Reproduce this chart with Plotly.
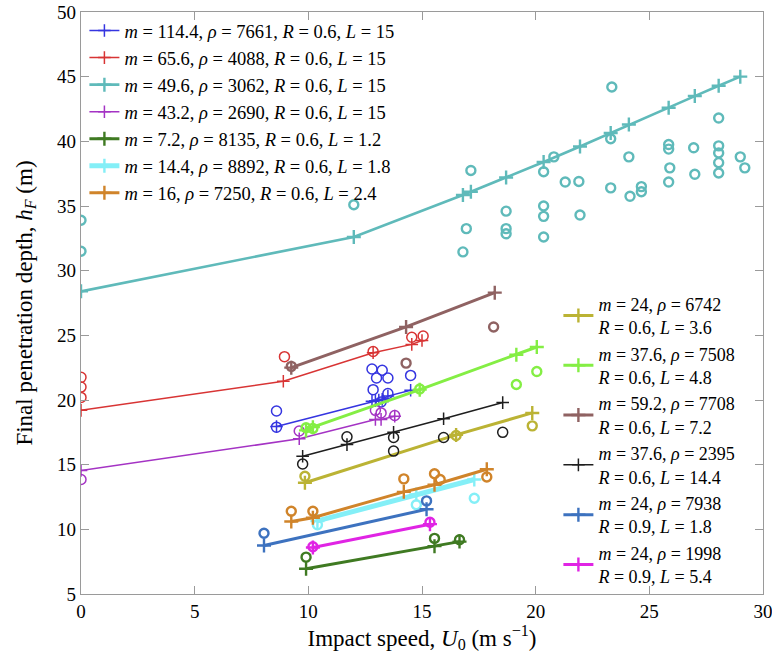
import plotly.graph_objects as go

# ---------------- data ----------------
# m=114.4, rho=7661, R=0.6, L=15 (blue)
blue_lx = [8.6, 12.8, 12.95, 13.1, 13.25, 13.5, 14.5]
blue_ly = [17.95, 19.9, 19.95, 20.0, 20.05, 20.3, 20.75]
blue_px = [8.6, 8.6, 12.8, 13.25, 13.0, 13.5, 12.85, 13.5, 14.5, 13.2]
blue_py = [19.15, 17.9, 22.4, 22.3, 21.7, 21.7, 20.8, 20.5, 21.9, 19.85]

# m=65.6, rho=4088, R=0.6, L=15 (red)
red_lx = [0, 8.9, 12.85, 14.55, 15.0]
red_ly = [19.2, 21.45, 23.65, 24.3, 24.6]
red_px = [0, 0, 0, 8.95, 12.85, 14.55, 15.05]
red_py = [21.75, 21.0, 20.2, 23.35, 23.75, 24.85, 24.95]

# m=49.6, rho=3062, R=0.6, L=15 (cyan)
cyan_lx = [0, 12, 16.8, 17.15, 18.7, 20.35, 21.95, 23.3, 24.1, 25.85, 27.0, 28.05, 29.0]
cyan_ly = [28.4, 32.6, 35.85, 36.1, 37.2, 38.4, 39.6, 40.65, 41.3, 42.6, 43.5, 44.3, 45.0]
cyan_px = [0, 0, 12, 17.15, 16.95, 16.8, 18.7, 18.7, 18.7, 20.35, 20.35, 20.35, 20.35,
           20.8, 21.3, 21.9, 21.95, 23.3, 23.35, 23.3, 24.1, 24.15, 24.65, 24.65,
           25.85, 25.85, 25.9, 25.85, 26.95, 27.0, 28.05, 28.05, 28.05, 28.05, 28.05,
           29.0, 29.2]
cyan_py = [33.9, 31.5, 35.1, 37.75, 33.25, 31.45, 34.6, 33.25, 32.85, 37.65, 35.0, 34.2, 32.6,
           38.8, 36.85, 36.9, 34.3, 40.2, 44.2, 36.4, 38.8, 35.75, 36.5, 36.1,
           39.75, 39.4, 37.95, 36.85, 39.5, 37.45, 41.8, 39.65, 39.1, 38.35, 37.55,
           38.8, 37.95]

# m=43.2, rho=2690, R=0.6, L=15 (purple)
purple_lx = [0, 9.6, 12.95, 13.2, 13.8]
purple_ly = [14.55, 17.0, 18.5, 18.5, 18.75]
purple_px = [0, 9.6, 12.95, 13.2, 13.8]
purple_py = [13.85, 17.6, 19.2, 19.0, 18.8]

# m=7.2, rho=8135, R=0.6, L=1.2 (dark green)
dgreen_lx = [9.9, 15.55, 16.65]
dgreen_ly = [6.95, 8.7, 9.05]
dgreen_px = [9.9, 15.55, 16.65]
dgreen_py = [7.85, 9.3, 9.2]

# m=14.4, rho=8892, R=0.6, L=1.8 (light cyan)
lcyan_lx = [10.4, 14.75, 17.3]
lcyan_ly = [10.65, 12.7, 13.85]
lcyan_px = [10.4, 14.75, 17.3]
lcyan_py = [10.35, 11.9, 12.4]

# m=16, rho=7250, R=0.6, L=2.4 (orange)
orange_lx = [9.25, 10.2, 14.2, 15.55, 17.85]
orange_ly = [10.6, 10.9, 12.9, 13.45, 14.65]
orange_px = [9.25, 10.2, 14.2, 15.55, 15.8, 17.85]
orange_py = [11.4, 11.4, 13.9, 14.3, 13.85, 14.05]

# m=24, rho=6742, R=0.6, L=3.6 (olive)
olive_lx = [9.85, 16.5, 19.85]
olive_ly = [13.6, 17.3, 19.0]
olive_px = [9.85, 16.5, 19.85]
olive_py = [14.1, 17.25, 18.0]

# m=37.6, rho=7508, R=0.6, L=4.8 (light green)
lgreen_lx = [9.9, 10.2, 14.9, 19.15, 20.05]
lgreen_ly = [17.65, 17.9, 20.8, 23.5, 24.1]
lgreen_px = [9.9, 10.2, 14.9, 19.15, 20.05]
lgreen_py = [17.85, 17.8, 20.85, 21.2, 22.2]

# m=59.2, rho=7708, R=0.6, L=7.2 (brown)
brown_lx = [9.25, 14.3, 18.2]
brown_ly = [22.5, 25.65, 28.3]
brown_px = [9.25, 14.3, 18.15]
brown_py = [22.6, 22.85, 25.65]

# m=37.6, rho=2395, R=0.6, L=14.4 (black)
black_lx = [9.75, 11.7, 13.75, 15.95, 18.55]
black_ly = [15.65, 16.55, 17.5, 18.55, 19.8]
black_px = [9.75, 11.7, 13.75, 13.75, 15.95, 18.55]
black_py = [15.05, 17.15, 17.1, 16.05, 17.1, 17.5]

# m=24, rho=7938, R=0.9, L=1.8 (steel blue)
sblue_lx = [8.05, 15.2]
sblue_ly = [8.75, 11.55]
sblue_px = [8.05, 15.2]
sblue_py = [9.7, 12.2]

# m=24, rho=1998, R=0.9, L=5.4 (magenta)
mag_lx = [10.2, 15.35]
mag_ly = [8.6, 10.4]
mag_px = [10.2, 15.35]
mag_py = [8.65, 10.55]

x_ticks = [0, 5, 10, 15, 20, 25, 30]
y_ticks = [5, 10, 15, 20, 25, 30, 35, 40, 45, 50]

# ---------------- styling ----------------
EQ = " = "

def lab1(m, rho, R, L):
    return (f"<i>m</i>{EQ}{m}, <i>ρ</i>{EQ}{rho}, "
            f"<i>R</i>{EQ}{R}, <i>L</i>{EQ}{L}")

def lab2(m, rho, R, L):
    return (f"<i>m</i>{EQ}{m}, <i>ρ</i>{EQ}{rho}<br>"
            f"<i>R</i>{EQ}{R}, <i>L</i>{EQ}{L}")

series = [
    # (lx, ly, px, py, color, linewidth, label, legend)
    (blue_lx, blue_ly, blue_px, blue_py, "#3535e0", 1.5, lab1(114.4, 7661, 0.6, 15), "legend"),
    (red_lx, red_ly, red_px, red_py, "#d83434", 1.5, lab1(65.6, 4088, 0.6, 15), "legend"),
    (cyan_lx, cyan_ly, cyan_px, cyan_py, "#5fbaba", 2.6, lab1(49.6, 3062, 0.6, 15), "legend"),
    (purple_lx, purple_ly, purple_px, purple_py, "#a433c4", 1.5, lab1(43.2, 2690, 0.6, 15), "legend"),
    (dgreen_lx, dgreen_ly, dgreen_px, dgreen_py, "#3f7a22", 3, lab1(7.2, 8135, 0.6, 1.2), "legend"),
    (lcyan_lx, lcyan_ly, lcyan_px, lcyan_py, "#84eff7", 5, lab1(14.4, 8892, 0.6, 1.8), "legend"),
    (orange_lx, orange_ly, orange_px, orange_py, "#d0842a", 3, lab1(16, 7250, 0.6, 2.4), "legend"),
    (olive_lx, olive_ly, olive_px, olive_py, "#bbb334", 3, lab2(24, 6742, 0.6, 3.6), "legend2"),
    (lgreen_lx, lgreen_ly, lgreen_px, lgreen_py, "#84ee44", 3, lab2(37.6, 7508, 0.6, 4.8), "legend2"),
    (brown_lx, brown_ly, brown_px, brown_py, "#8f6262", 3, lab2(59.2, 7708, 0.6, 7.2), "legend2"),
    (black_lx, black_ly, black_px, black_py, "#1e1e1e", 1.5, lab2(37.6, 2395, 0.6, 14.4), "legend2"),
    (sblue_lx, sblue_ly, sblue_px, sblue_py, "#3d72bf", 3, lab2(24, 7938, 0.9, 1.8), "legend2"),
    (mag_lx, mag_ly, mag_px, mag_py, "#e024e4", 3, lab2(24, 1998, 0.9, 5.4), "legend2"),
]

fig = go.Figure()
for i, (lx, ly, px, py, col, lw, name, leg) in enumerate(series):
    thick = lw >= 2.5
    fig.add_trace(go.Scatter(
        x=px, y=py, mode="markers", showlegend=False, hoverinfo="skip",
        marker=dict(symbol="circle-open", size=9 if thick else 10, color=col,
                    line=dict(color=col, width=2.4 if thick else 1.5)),
    ))
    fig.add_trace(go.Scatter(
        x=lx, y=ly, mode="lines+markers", name=name, legend=leg,
        legendgroup=f"g{i}",
        line=dict(color=col, width=lw),
        marker=dict(symbol="cross-thin", size=10 if thick else 9, color=col,
                    line=dict(color=col, width=2.4 if thick else 1.5)),
    ))

serif = "Liberation Serif, Times New Roman, serif"
axis_common = dict(
    showline=True, linecolor="#9a9a9a", linewidth=1.2, mirror="ticks",
    ticks="inside", ticklen=8, tickcolor="#9a9a9a", tickwidth=1,
    showgrid=False, zeroline=False, automargin=False,
    ticklabeloverflow="allow",
    tickfont=dict(family=serif, size=19, color="black"),
)

fig.update_layout(
    width=772, height=657,
    margin=dict(l=81, r=9, t=12, b=63),
    paper_bgcolor="white", plot_bgcolor="white",
    font=dict(family=serif, color="black"),
    xaxis=dict(range=[0, 30], tickvals=x_ticks,
               title=dict(text="Impact speed, <i>U</i><sub>0</sub> (m s<sup>−1</sup>)",
                          font=dict(family=serif, size=23), standoff=6),
               **axis_common),
    yaxis=dict(range=[5, 50], tickvals=y_ticks,
               title=dict(text="Final penetration depth, <i>h<sub>F</sub></i> (m)",
                          font=dict(family=serif, size=23), standoff=18),
               **axis_common),
    legend=dict(x=0.005, y=1.0, xanchor="left", yanchor="top",
                bgcolor="rgba(0,0,0,0)", font=dict(family=serif, size=18.5),
                tracegroupgap=0, itemwidth=30, traceorder="grouped"),
    legend2=dict(x=0.70, y=0.53, xanchor="left", yanchor="top",
                 bgcolor="rgba(0,0,0,0)", font=dict(family=serif, size=18),
                 tracegroupgap=0, itemwidth=30, traceorder="grouped"),
)

fig.write_html("out.html", config={"displayModeBar": False},
               post_script="document.body.style.margin='0';"
               "document.body.style.overflow='hidden';")
